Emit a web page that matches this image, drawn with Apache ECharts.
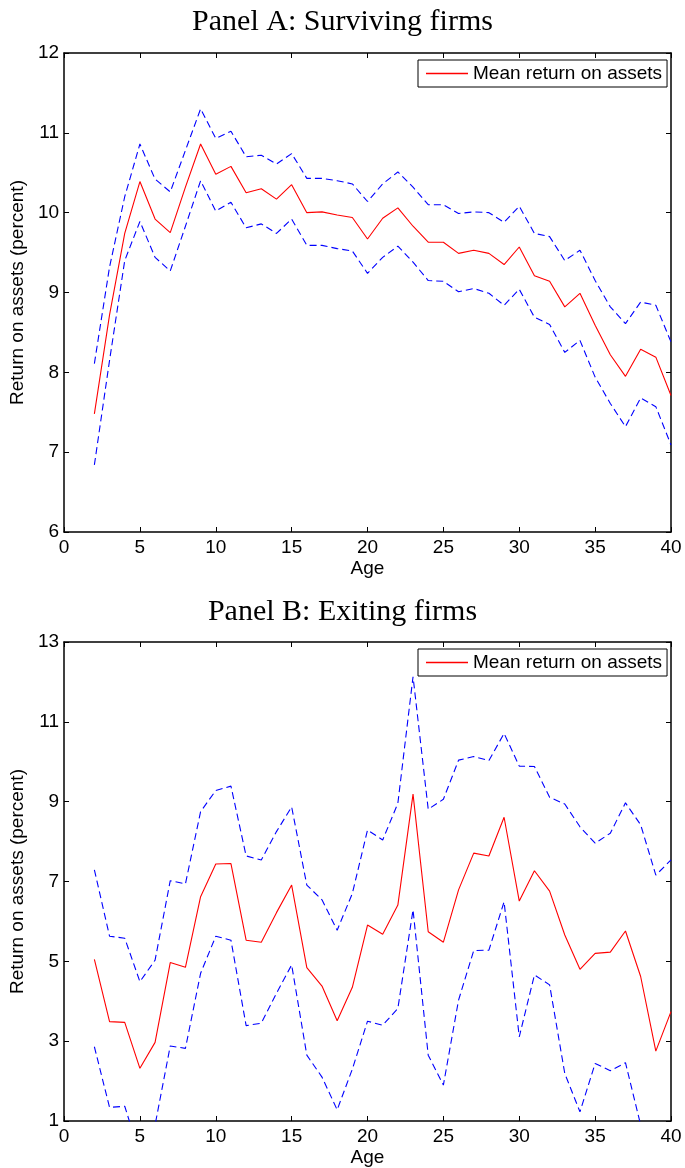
<!DOCTYPE html>
<html>
<head>
<meta charset="utf-8">
<script src="https://cdn.jsdelivr.net/npm/echarts@6/dist/echarts.min.js"></script>
<style>
  html, body { margin: 0; padding: 0; background: #fff; }
  #chart { width: 685px; height: 1168px; }
</style>
</head>
<body>
<div id="chart"></div>
<script>
  // 年龄 (横轴)
  var ages = [2, 3, 4, 5, 6, 7, 8, 9, 10, 11, 12, 13, 14, 15, 16, 17, 18, 19, 20, 21,
              22, 23, 24, 25, 26, 27, 28, 29, 30, 31, 32, 33, 34, 35, 36, 37, 38, 39, 40];

  // Panel A: surviving firms
  var survMean = [7.48, 8.72, 9.74, 10.39, 9.92, 9.75, 10.32, 10.86, 10.48, 10.58, 10.25, 10.30, 10.17, 10.35, 10.00, 10.01, 9.97, 9.94, 9.67, 9.93,
                  10.06, 9.83, 9.63, 9.63, 9.49, 9.53, 9.49, 9.35, 9.57, 9.21, 9.14, 8.82, 8.99, 8.59, 8.22, 7.95, 8.29, 8.19, 7.71];
  var survUpper = [8.11, 9.32, 10.20, 10.86, 10.42, 10.26, 10.78, 11.30, 10.93, 11.02, 10.70, 10.72, 10.61, 10.74, 10.43, 10.43, 10.40, 10.36, 10.14, 10.36,
                   10.51, 10.32, 10.10, 10.10, 9.99, 10.01, 10.00, 9.88, 10.08, 9.74, 9.70, 9.40, 9.53, 9.15, 8.82, 8.61, 8.88, 8.84, 8.38];
  var survLower = [6.84, 8.15, 9.40, 9.89, 9.44, 9.27, 9.83, 10.40, 10.02, 10.13, 9.81, 9.86, 9.74, 9.92, 9.59, 9.59, 9.55, 9.52, 9.24, 9.44,
                   9.58, 9.38, 9.15, 9.14, 9.01, 9.05, 8.99, 8.84, 9.04, 8.69, 8.60, 8.25, 8.40, 7.94, 7.61, 7.32, 7.68, 7.57, 7.09];

  // Panel B: exiting firms
  var exitMean = [5.05, 3.49, 3.47, 2.32, 2.97, 4.97, 4.85, 6.62, 7.44, 7.45, 5.53, 5.48, 6.22, 6.91, 4.84, 4.38, 3.51, 4.35, 5.91, 5.68,
                  6.41, 9.19, 5.74, 5.48, 6.79, 7.71, 7.64, 8.61, 6.51, 7.27, 6.76, 5.66, 4.80, 5.20, 5.23, 5.76, 4.62, 2.75, 3.74];
  var exitUpper = [7.29, 5.63, 5.58, 4.49, 5.03, 7.02, 6.94, 8.75, 9.28, 9.39, 7.64, 7.54, 8.25, 8.87, 6.91, 6.54, 5.78, 6.70, 8.29, 8.04,
                   8.96, 12.13, 8.81, 9.06, 10.04, 10.13, 10.03, 10.71, 9.89, 9.88, 9.11, 8.94, 8.37, 7.96, 8.21, 8.97, 8.42, 7.16, 7.54];
  var exitLower = [2.86, 1.34, 1.37, 0.15, 0.90, 2.88, 2.82, 4.70, 5.63, 5.53, 3.39, 3.45, 4.20, 4.91, 2.65, 2.10, 1.28, 2.30, 3.50, 3.40,
                   3.82, 6.29, 2.65, 1.90, 4.03, 5.27, 5.28, 6.49, 3.11, 4.66, 4.41, 2.19, 1.23, 2.44, 2.26, 2.46, 0.90, -1.66, -0.06];

  var xTicks = [0, 40, 5];          // min, max, interval
  var yTicksA = [6, 12, 1];
  var yTicksB = [1, 13, 2];

  var sans = 'Liberation Sans';
  var serif = 'Liberation Serif';

  function pairs(vals) {
    return ages.map(function (a, i) { return [a, vals[i]]; });
  }

  function xAxisOf(grid, pos, ticks) {
    var bottom = pos === 'bottom';
    return {
      type: 'value', gridIndex: grid, position: pos,
      min: ticks[0], max: ticks[1], interval: ticks[2],
      name: bottom ? 'Age' : '', nameLocation: 'middle', nameGap: 27,
      nameTextStyle: { fontFamily: sans, fontSize: 19, color: '#000' },
      axisLine: { show: true, onZero: false, lineStyle: { color: '#000', width: 1.5 } },
      axisTick: { show: true, inside: true, length: 5, lineStyle: { color: '#000', width: 1 } },
      axisLabel: { show: bottom, margin: 6, fontFamily: sans, fontSize: 19, color: '#000' },
      splitLine: { show: false }
    };
  }

  function yAxisOf(grid, pos, ticks) {
    var left = pos === 'left';
    return {
      type: 'value', gridIndex: grid, position: pos,
      min: ticks[0], max: ticks[1], interval: ticks[2],
      name: left ? 'Return on assets (percent)' : '', nameLocation: 'middle', nameGap: 29,
      nameTextStyle: { fontFamily: sans, fontSize: 19, color: '#000' },
      axisLine: { show: true, onZero: false, lineStyle: { color: '#000', width: 1.5 } },
      axisTick: { show: true, inside: true, length: 5, lineStyle: { color: '#000', width: 1 } },
      axisLabel: { show: left, margin: 5, fontFamily: sans, fontSize: 19, color: '#000' },
      splitLine: { show: false }
    };
  }

  function lineOf(name, vals, idx, dashed) {
    return {
      name: name, type: 'line', xAxisIndex: idx, yAxisIndex: idx,
      data: pairs(vals), symbol: 'none', showSymbol: false, silent: true,
      lineStyle: dashed ? { color: '#0000ff', width: 1.1, type: [7, 4] }
                        : { color: '#ff0000', width: 1.1 },
      itemStyle: { color: dashed ? '#0000ff' : '#ff0000' }
    };
  }

  // 图例: 只画一段红线
  function legendOf(top) {
    return {
      data: ['Mean return on assets'], selectedMode: false,
      left: 418, top: top, orient: 'horizontal',
      padding: [4, 5, 4, 8],
      backgroundColor: '#fff', borderColor: '#000', borderWidth: 1, borderRadius: 0,
      icon: 'rect', itemWidth: 42, itemHeight: 1.6, itemGap: 5,
      itemStyle: { color: '#ff0000', borderWidth: 0 },
      textStyle: { fontFamily: sans, fontSize: 19, color: '#000' }
    };
  }

  var chart = echarts.init(document.getElementById('chart'), null, { renderer: 'canvas' });
  var option = {
    backgroundColor: '#fff',
    animation: false,
    title: [
      { text: 'Panel A: Surviving firms', left: 'center', top: 2,
        textStyle: { fontFamily: serif, fontSize: 30, fontWeight: 'normal', color: '#000' } },
      { text: 'Panel B: Exiting firms', left: 'center', top: 592,
        textStyle: { fontFamily: serif, fontSize: 30, fontWeight: 'normal', color: '#000' } }
    ],
    legend: [legendOf(60), legendOf(649)],
    grid: [
      { left: 64, top: 53, width: 607, height: 479 },
      { left: 64, top: 642, width: 607, height: 479 }
    ],
    xAxis: [
      xAxisOf(0, 'bottom', xTicks), xAxisOf(0, 'top', xTicks),
      xAxisOf(1, 'bottom', xTicks), xAxisOf(1, 'top', xTicks)
    ],
    yAxis: [
      yAxisOf(0, 'left', yTicksA), yAxisOf(0, 'right', yTicksA),
      yAxisOf(1, 'left', yTicksB), yAxisOf(1, 'right', yTicksB)
    ],
    series: [
      lineOf('Upper bound A', survUpper, 0, true),
      lineOf('Lower bound A', survLower, 0, true),
      lineOf('Mean return on assets', survMean, 0, false),
      lineOf('Upper bound B', exitUpper, 2, true),
      lineOf('Lower bound B', exitLower, 2, true),
      lineOf('Mean return on assets', exitMean, 2, false)
    ]
  };
  chart.setOption(option);
</script>
</body>
</html>
